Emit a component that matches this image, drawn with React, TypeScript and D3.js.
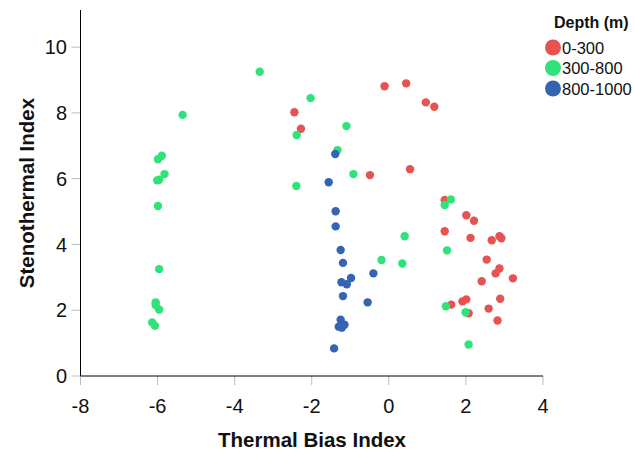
import React from 'react';
import * as d3 from 'd3';

// Depth 0-300 m
const shallowX = [-2.45, -2.28, -0.11, 0.45, 0.96, 1.18, -0.49, 0.55, 1.45, 1.45, 2.01, 2.21, 2.12, 2.67, 2.87, 2.92, 2.54, 2.87, 2.77, 3.22, 2.41, 2.89, 2.01, 1.91, 1.62, 2.59, 2.07, 2.82];
const shallowY = [8.02, 7.52, 8.81, 8.90, 8.32, 8.19, 6.11, 6.29, 5.35, 4.40, 4.89, 4.72, 4.20, 4.13, 4.25, 4.19, 3.54, 3.27, 3.12, 2.97, 2.88, 2.35, 2.33, 2.27, 2.17, 2.05, 1.91, 1.69];

// Depth 300-800 m
const midX = [-3.35, -2.03, -5.35, -2.39, -5.89, -5.99, -5.82, -5.96, -6.01, -2.40, -5.99, -5.96, -6.05, -6.05, -5.96, -6.14, -6.07, -1.10, -1.33, -0.92, 1.61, 1.45, 0.41, 1.51, -0.19, 0.35, 1.48, 1.99, 2.07];
const midY = [9.25, 8.45, 7.94, 7.33, 6.70, 6.59, 6.14, 5.97, 5.95, 5.78, 5.17, 3.25, 2.24, 2.16, 2.02, 1.63, 1.53, 7.60, 6.87, 6.14, 5.37, 5.20, 4.25, 3.82, 3.53, 3.42, 2.12, 1.94, 0.96];

// Depth 800-1000 m
const deepX = [-1.39, -1.56, -1.38, -1.38, -1.25, -1.19, -0.40, -0.98, -1.23, -1.09, -1.19, -0.55, -1.25, -1.30, -1.15, -1.22, -1.42];
const deepY = [6.75, 5.89, 5.01, 4.55, 3.83, 3.44, 3.12, 2.98, 2.85, 2.79, 2.43, 2.24, 1.71, 1.50, 1.56, 1.47, 0.84];

const groups = [
  { label: '0-300', color: '#e65353', xs: shallowX, ys: shallowY },
  { label: '300-800', color: '#2fe27a', xs: midX, ys: midY },
  { label: '800-1000', color: '#3465b5', xs: deepX, ys: deepY },
];

const xTicks = [-8, -6, -4, -2, 0, 2, 4];
const yTicks = [0, 2, 4, 6, 8, 10];

const W = 634;
const H = 451;
const left = 80.5;
const right = 543;
const top = 10;
const bottom = 376;

export default function App() {
  const x = d3.scaleLinear().domain([-8, 4]).range([left, right]);
  const y = d3.scaleLinear().domain([0, 11.13]).range([bottom, top]);
  const font = 'Liberation Sans, Arial, sans-serif';

  return (
    <svg width={W} height={H} style={{ position: 'absolute', left: 0, top: 0, background: '#fff' }} fontFamily={font}>
      {/* ticks */}
      {xTicks.map(t => (
        <g key={'x' + t}>
          <line x1={x(t)} x2={x(t)} y1={bottom} y2={bottom + 9} stroke="#bbb" />
          <text x={x(t)} y={412.5} textAnchor="middle" fontSize={20} fill="#111">{t}</text>
        </g>
      ))}
      {yTicks.map(t => (
        <g key={'y' + t}>
          <line x1={left - 9} x2={left} y1={y(t)} y2={y(t)} stroke="#bbb" />
          <text x={67} y={y(t) + 7.2} textAnchor="end" fontSize={20} fill="#111">{t}</text>
        </g>
      ))}
      {/* axes */}
      <line x1={left} x2={left} y1={top} y2={bottom} stroke="#000" />
      <line x1={left} x2={right} y1={bottom} y2={bottom} stroke="#000" />

      {/* points */}
      {groups.map(g => (
        <g key={g.label}>
          {g.xs.map((v, i) => (
            <circle key={i} cx={x(v)} cy={y(g.ys[i])} r={4.2} fill={g.color} />
          ))}
        </g>
      ))}

      {/* titles */}
      <text x={312} y={447} textAnchor="middle" fontSize={20.5} fontWeight="bold" fill="#111">Thermal Bias Index</text>
      <text transform={`translate(34,193) rotate(-90)`} textAnchor="middle" fontSize={20.5} fontWeight="bold" fill="#111">Stenothermal Index</text>

      {/* legend */}
      <text x={554} y={28} fontSize={16} fontWeight="bold" fill="#111">Depth (m)</text>
      {groups.map((g, i) => (
        <g key={'l' + g.label}>
          <circle cx={553} cy={47.5 + i * 20.5} r={8} fill={g.color} />
          <text x={562} y={53.5 + i * 20.5} fontSize={16.5} fill="#111">{g.label}</text>
        </g>
      ))}
    </svg>
  );
}
